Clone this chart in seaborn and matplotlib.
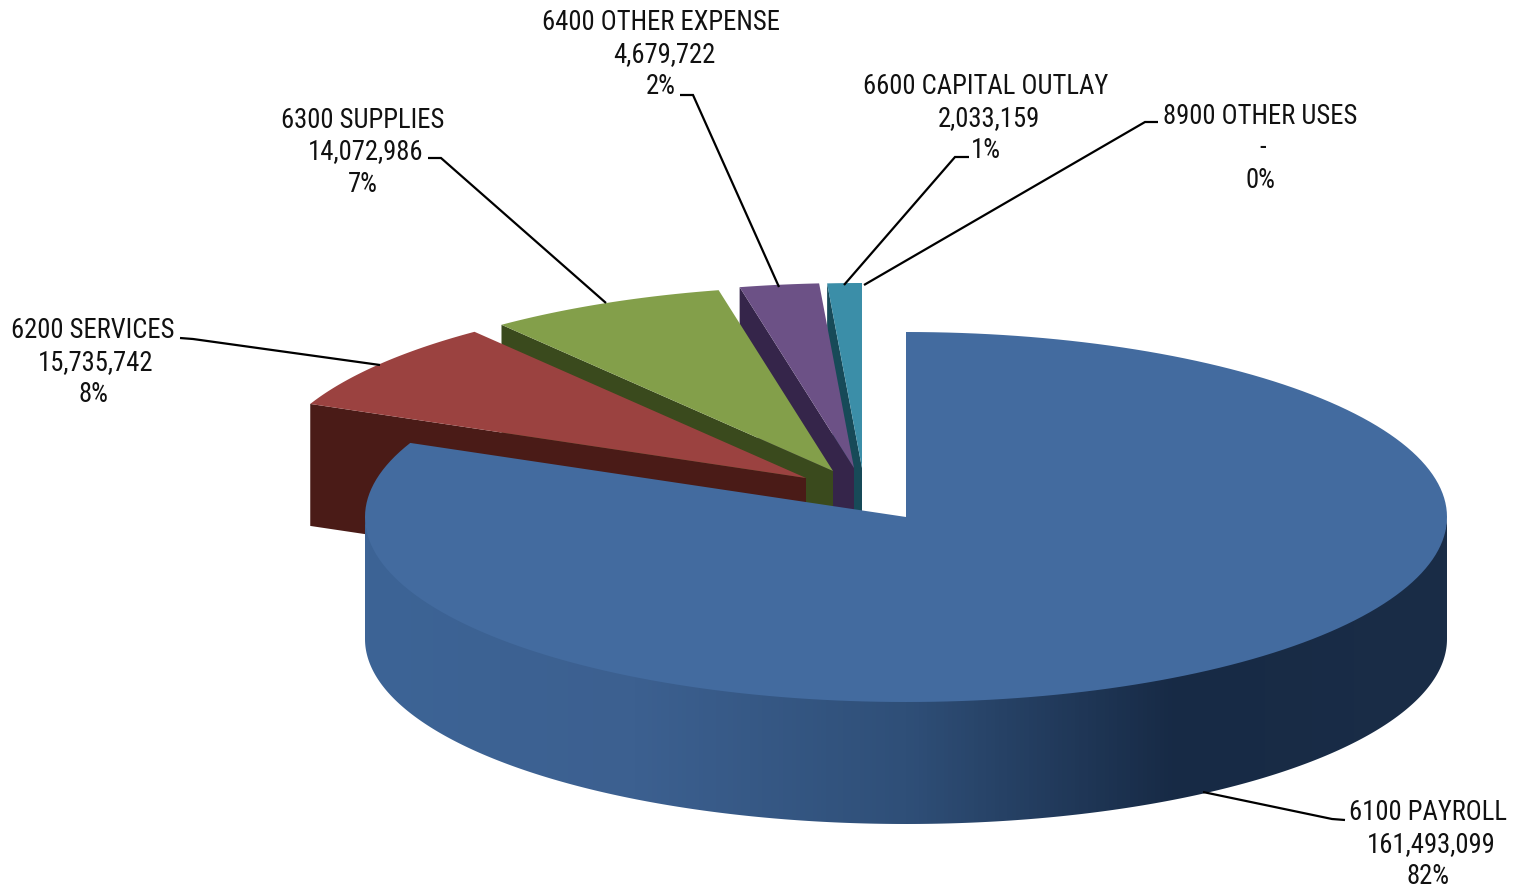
import numpy as np
import matplotlib
matplotlib.use("Agg")
import matplotlib.pyplot as plt
from matplotlib.patches import Polygon
from matplotlib.colors import ListedColormap
import seaborn as sns

# Budget by function code
categories = ["6100 PAYROLL", "6200 SERVICES", "6300 SUPPLIES",
              "6400 OTHER EXPENSE", "6600 CAPITAL OUTLAY", "8900 OTHER USES"]
amounts = [161493099, 15735742, 14072986, 4679722, 2033159, 0]

# Slice styling and pull-out offsets, in pixels
top_colors = ["#436b9f", "#9b4240", "#839f4a", "#6c5186", "#3b8ea8", "#bc8f3f"]
side_colors = ["#3d6496", "#4a1b17", "#3a4a1d", "#35254a", "#174a58", "#5a4010"]
wall_stops = ["#3d6496", "#3c6090", "#2f4f78", "#172a45", "#1a2d47"]
offsets = [(0, 0), (-100, -39), (-73, -46), (-52, -49), (-44, -49), (0, 0)]

# Label anchors (centre x, first line y) and leader polylines
label_anchor = [(1428, 813), (93, 331), (363, 120), (661, 23), (986, 87), (1260, 116)]
leader_x = [[1345, 1332, 1203], [180, 193, 380], [428, 441, 606],
            [680, 693, 779], [969, 955, 844], [1158, 1145, 864]]
leader_y = [[820, 819, 792], [338, 339, 365], [158, 158, 303],
            [95, 95, 287], [157, 157, 285], [122, 122, 285]]

CX, CY, RX, RY, DEPTH = 906, 517, 541, 185, 122
LINE_PITCH = 32
LABEL_SIZE = 19.2

sns.set_theme(style="white")
plt.rcParams["font.family"] = ["Roboto Condensed", "Roboto", "DejaVu Sans"]

fig = plt.figure(figsize=(15.16, 8.89), dpi=100)
ax = fig.add_axes([0, 0, 1, 1])


def rim(theta, offset=(0, 0), drop=0):
    """Points on the elliptical rim; theta is clockwise from twelve o'clock."""
    return np.column_stack([CX + offset[0] + RX * np.sin(theta),
                            CY + offset[1] + drop - RY * np.cos(theta)])


fractions = np.asarray(amounts, dtype=float) / np.sum(amounts)
edges = np.concatenate([[0], np.cumsum(fractions)]) * 2 * np.pi

# Back slices first, so the large front slice overlaps them
for i in range(len(amounts) - 1, -1, -1):
    if amounts[i] == 0:
        continue
    start, end = edges[i], edges[i + 1]
    off = offsets[i]
    apex = np.array([[CX + off[0], CY + off[1]]])
    arc = rim(np.linspace(start, end, 200), off)

    if i > 0:
        # Radial face below the leading edge of each pulled-out slice
        edge = rim(np.array([start]), off)
        face = np.vstack([apex, edge, edge + [0, DEPTH], apex + [0, DEPTH]])
        ax.add_patch(Polygon(face, closed=True, fc=side_colors[i], ec="none", zorder=2 + (5 - i)))
    else:
        # Outer wall of the front half, shaded from left to right; its upper edge
        # tucks slightly under the top face so no seam shows between them
        theta = np.linspace(np.pi / 2, 3 * np.pi / 2, 300)
        wall = np.vstack([rim(theta, off, -3), rim(theta, off, DEPTH)[::-1]])
        clip = Polygon(wall, closed=True, fc="none", ec="none", transform=ax.transData)
        ax.add_patch(clip)
        cmap = ListedColormap(sns.blend_palette(wall_stops, 256))
        image = ax.imshow(np.linspace(0, 1, 256)[None, :], cmap=cmap, aspect="auto",
                          extent=(CX - RX, CX + RX, CY + RY + DEPTH + 2, CY - 4), zorder=20)
        image.set_clip_path(clip)

    top = np.vstack([apex, arc])
    ax.add_patch(Polygon(top, closed=True, fc=top_colors[i], ec="none",
                         zorder=21 if i == 0 else 3 + (5 - i)))

# Leader lines and three-line labels
for i, name in enumerate(categories):
    ax.plot(leader_x[i], leader_y[i], color="black", lw=1.6, zorder=30,
            solid_joinstyle="miter", solid_capstyle="butt")
    x, y = label_anchor[i]
    value = f"{amounts[i]:,}" if amounts[i] else "-"
    percent = f"{fractions[i] * 100:.0f}%"
    ax.text(x, y, name, ha="center", va="center", fontsize=LABEL_SIZE, color="#111111", zorder=31)
    ax.text(x + 3, y + LINE_PITCH, value, ha="center", va="center", fontsize=LABEL_SIZE,
            color="#111111", zorder=31)
    ax.text(x, y + 2 * LINE_PITCH, percent, ha="center", va="center", fontsize=LABEL_SIZE,
            color="#111111", zorder=31)

ax.set_xlim(0, 1516)
ax.set_ylim(889, 0)
ax.axis("off")
fig.savefig("out.png", dpi=100, facecolor="white")
